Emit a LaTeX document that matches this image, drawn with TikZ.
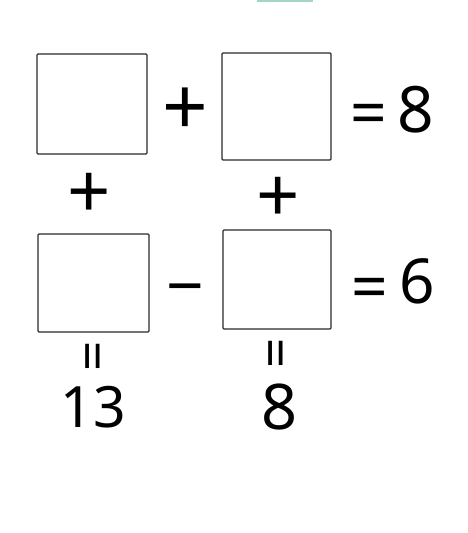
\documentclass[tikz,border=0pt]{standalone}
\usepackage{fontspec}
\setmainfont{Noto Sans}
\definecolor{barteal}{HTML}{A3D5C9}
\definecolor{boxgray}{HTML}{2A2A2A}
\tikzset{
  cell/.style={draw=boxgray,line width=1.4pt,rounded corners=1pt,inner sep=0pt},
  sym/.style={inner sep=0pt,text=black}
}
\begin{document}
\begin{tikzpicture}[x=1pt,y=-1pt]
\useasboundingbox (0,0) rectangle (468,533);
\fill[barteal] (257,0) rectangle (313,1.6);
% boxes
\node[cell,minimum width=110pt,minimum height=100pt] (tl) at (92,104) {}; %1
\node[cell,minimum width=109pt,minimum height=107pt] (tr) at (276.5,106.5) {}; %2
\node[cell,minimum width=111pt,minimum height=98pt] (bl) at (93.5,283) {}; %3
\node[cell,minimum width=108pt,minimum height=99pt] (br) at (277,279.5) {}; %4
% row signs
\node[sym,font=\fontsize{80}{80}\selectfont] (plusa) at (185,112) {+};
\node[sym,font=\fontsize{64}{64}\selectfont] (eqa) at (369,119.5) {=};
\node[sym,font=\fontsize{64}{64}\selectfont] (suma) at (416,110) {8};
\node[sym,font=\fontsize{66}{66}\selectfont] (minusb) at (185.5,297) {−};
\node[sym,font=\fontsize{64}{64}\selectfont] (eqb) at (369.5,294) {=};
\node[sym,font=\fontsize{62}{62}\selectfont] (sumb) at (417.5,281) {6};
% column signs
\node[sym,font=\fontsize{76}{76}\selectfont] (plusl) at (89,196) {+};
\node[sym,font=\fontsize{76}{76}\selectfont] (plusr) at (278,200) {+};
\node[sym,rotate=90,font=\fontsize{53}{53}\selectfont] (eql) at (99,356) {=};
\node[sym,rotate=90,font=\fontsize{53}{53}\selectfont] (eqr) at (282,353.5) {=};
\node[sym,font=\fontsize{57}{57}\selectfont] (suml) at (93,407.5) {13};
\node[sym,font=\fontsize{63}{63}\selectfont] (sumr) at (280,407.5) {8};
\end{tikzpicture}
\end{document}
